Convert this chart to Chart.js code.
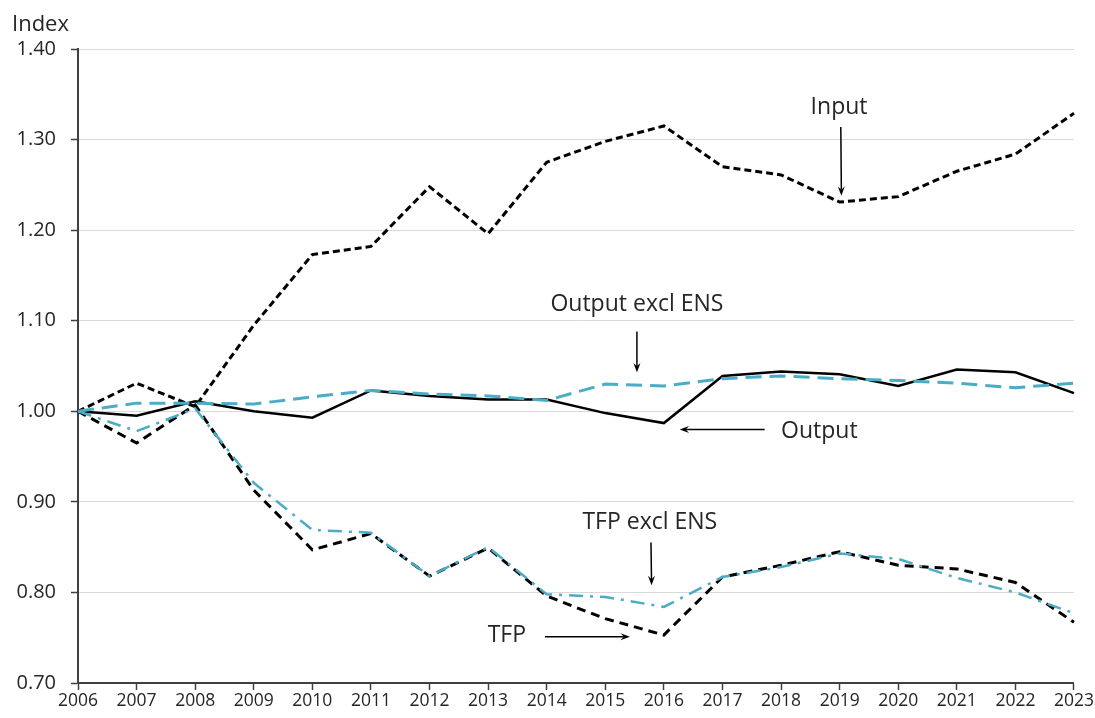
<!DOCTYPE html>
<html>
<head>
<meta charset="utf-8">
<script src="https://cdn.jsdelivr.net/npm/chart.js@4"></script>
<style>
  html, body { margin: 0; padding: 0; background: #fff; }
  #wrap { width: 1095px; height: 718px; position: relative; }
</style>
</head>
<body>
<div id="wrap"><canvas id="chart"></canvas></div>
<script>
// Years on the x axis
const years = ['2006','2007','2008','2009','2010','2011','2012','2013','2014','2015','2016','2017','2018','2019','2020','2021','2022','2023'];

// Series values (index, 2006 = 1.00)
const input         = [1.000, 1.031, 1.005, 1.095, 1.173, 1.182, 1.248, 1.196, 1.275, 1.298, 1.315, 1.270, 1.261, 1.231, 1.237, 1.265, 1.284, 1.329];
const output        = [1.000, 0.995, 1.011, 1.000, 0.993, 1.023, 1.017, 1.013, 1.013, 0.998, 0.987, 1.039, 1.044, 1.041, 1.028, 1.046, 1.043, 1.020];
const outputExclEns = [1.000, 1.009, 1.009, 1.008, 1.016, 1.023, 1.019, 1.017, 1.012, 1.030, 1.028, 1.036, 1.039, 1.036, 1.034, 1.031, 1.026, 1.031];
const tfp           = [1.000, 0.965, 1.007, 0.913, 0.847, 0.865, 0.818, 0.849, 0.796, 0.771, 0.753, 0.817, 0.830, 0.845, 0.830, 0.826, 0.811, 0.767];
const tfpExclEns    = [1.000, 0.978, 1.003, 0.921, 0.869, 0.866, 0.818, 0.850, 0.798, 0.795, 0.784, 0.817, 0.828, 0.843, 0.837, 0.816, 0.800, 0.777];

// Y axis range
const yMin = 0.70;
const yMax = 1.40;
const yStep = 0.10;

// Callout labels: text centre [year, value], arrow from [year, value] to [year, value]
const callouts = [
    { text: 'Input',           at: [2018.99, 1.336], align: 'center', from: [2019.02, 1.314], to: [2019.03, 1.238] },
    { text: 'Output excl ENS', at: [2015.54, 1.118], align: 'center', from: [2015.54, 1.088], to: [2015.54, 1.043] },
    { text: 'Output',          at: [2018.00, 0.978], align: 'left',   from: [2017.72, 0.980], to: [2016.27, 0.980] },
    { text: 'TFP excl ENS',    at: [2015.76, 0.877], align: 'center', from: [2015.78, 0.855], to: [2015.79, 0.808] },
    { text: 'TFP',             at: [2013.32, 0.752], align: 'center', from: [2013.97, 0.751], to: [2015.42, 0.751] }
];

const BLUE = '#4bacc6';
const FONT = "'Open Sans', 'Noto Sans', sans-serif";
const TEXT = '#262626';

// Draws the text labels and arrows over the chart
const calloutPlugin = {
    id: 'callouts',
    afterDatasetsDraw(chart) {
        const ctx = chart.ctx;
        const x = chart.scales.x;
        const y = chart.scales.y;
        const px = yr => x.getPixelForValue(yr - 2006);

        ctx.save();
        ctx.font = '23px ' + FONT;
        ctx.strokeStyle = '#000';
        ctx.lineWidth = 1.5;
        ctx.textBaseline = 'middle';

        callouts.forEach(c => {
            ctx.fillStyle = TEXT;
            ctx.textAlign = c.align;
            ctx.fillText(c.text, px(c.at[0]), y.getPixelForValue(c.at[1]));

            const x1 = px(c.from[0]), y1 = y.getPixelForValue(c.from[1]);
            const x2 = px(c.to[0]),   y2 = y.getPixelForValue(c.to[1]);
            const ang = Math.atan2(y2 - y1, x2 - x1);
            const head = 10;
            ctx.beginPath();
            ctx.moveTo(x1, y1);
            ctx.lineTo(x2 - Math.cos(ang) * head * 0.6, y2 - Math.sin(ang) * head * 0.6);
            ctx.stroke();
            ctx.beginPath();
            ctx.moveTo(x2, y2);
            ctx.lineTo(x2 - head * Math.cos(ang - 0.36), y2 - head * Math.sin(ang - 0.36));
            ctx.lineTo(x2 - head * 0.6 * Math.cos(ang), y2 - head * 0.6 * Math.sin(ang));
            ctx.lineTo(x2 - head * Math.cos(ang + 0.36), y2 - head * Math.sin(ang + 0.36));
            ctx.closePath();
            ctx.fillStyle = '#000';
            ctx.fill();
        });

        // axis title at top-left
        ctx.fillStyle = TEXT;
        ctx.font = '22px ' + FONT;
        ctx.textAlign = 'left';
        ctx.textBaseline = 'middle';
        ctx.fillText('Index', 12, 25);
        ctx.restore();
    }
};

function lineSet(label, data, color, width, dash) {
    return {
        label: label,
        data: data,
        borderColor: color,
        backgroundColor: color,
        borderWidth: width,
        borderDash: dash,
        pointRadius: 0,
        tension: 0,
        fill: false
    };
}

const ctx = document.getElementById('chart').getContext('2d');

new Chart(ctx, {
    type: 'line',
    data: {
        labels: years,
        datasets: [
            lineSet('Output excl ENS', outputExclEns, BLUE, 3, [16, 8]),
            lineSet('TFP excl ENS', tfpExclEns, BLUE, 2.5, [14, 7, 3, 7]),
            lineSet('TFP', tfp, '#000', 3, [9, 6]),
            lineSet('Output', output, '#000', 2.5, []),
            lineSet('Input', input, '#000', 3, [7, 4])
        ]
    },
    options: {
        responsive: true,
        maintainAspectRatio: false,
        animation: false,
        layout: { padding: { top: 49, right: 21, left: 0, bottom: 0 } },
        plugins: {
            legend: { display: false },
            tooltip: { enabled: false }
        },
        scales: {
            x: {
                offset: false,
                grid: { drawOnChartArea: false, drawTicks: true, tickLength: 7, tickColor: '#404040', tickWidth: 1.5 },
                border: { color: '#404040', width: 2 },
                ticks: { color: TEXT, font: { family: FONT, size: 17.5 }, padding: 1, maxRotation: 0, autoSkip: false },
                afterFit: scale => { scale.height = 35; }
            },
            y: {
                min: yMin,
                max: yMax,
                grid: { color: '#d9d9d9', lineWidth: 1, tickLength: 7, tickColor: '#404040', tickWidth: 1.5 },
                border: { color: '#404040', width: 2 },
                ticks: {
                    stepSize: yStep,
                    color: TEXT,
                    font: { family: FONT, size: 20 },
                    padding: 15,
                    callback: v => v.toFixed(2)
                },
                afterFit: scale => { scale.width = 78; }
            }
        }
    },
    plugins: [calloutPlugin]
});
</script>
</body>
</html>
